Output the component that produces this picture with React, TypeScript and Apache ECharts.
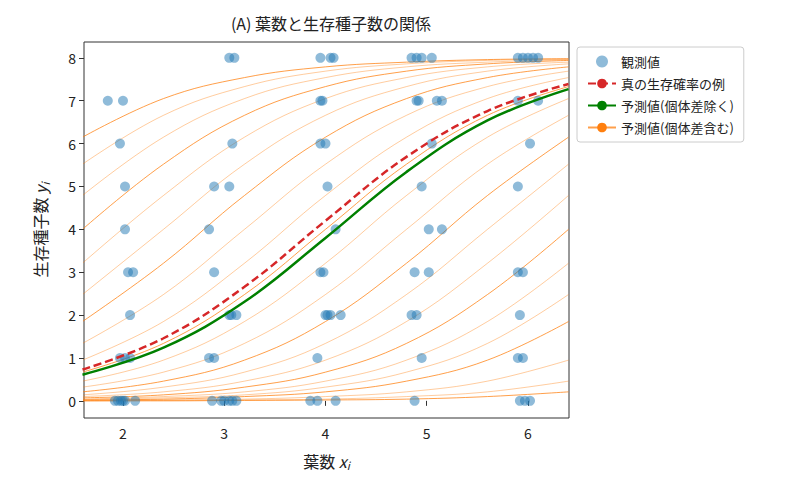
import { useEffect, useRef } from "react";
import * as echarts from "echarts";

const FONT = "'Noto Sans CJK JP', 'DejaVu Sans', sans-serif";

// observed points [x, y]
const obsPoints: [number, number][] = [
  [3.05, 8], [3.1, 8], [3.95, 8], [4.05, 8], [4.08, 8], [4.85, 8], [4.9, 8], [4.95, 8], [5.05, 8],
  [5.9, 8], [5.95, 8], [6.0, 8], [6.05, 8], [6.1, 8],
  [1.85, 7], [2.0, 7], [3.95, 7], [3.97, 7], [4.9, 7], [4.92, 7], [5.1, 7], [5.15, 7], [5.9, 7], [6.1, 7],
  [1.97, 6], [3.08, 6], [3.95, 6], [4.0, 6], [5.05, 6], [6.02, 6],
  [2.02, 5], [2.9, 5], [3.05, 5], [4.02, 5], [4.95, 5], [5.9, 5],
  [2.02, 4], [2.85, 4], [4.1, 4], [5.02, 4], [5.15, 4],
  [2.05, 3], [2.1, 3], [2.9, 3], [3.95, 3], [3.98, 3], [4.88, 3], [5.02, 3], [5.9, 3], [5.95, 3],
  [2.07, 2], [3.05, 2], [3.07, 2], [3.12, 2], [4.0, 2], [4.02, 2], [4.05, 2], [4.15, 2], [4.85, 2], [4.9, 2], [5.92, 2],
  [1.97, 1], [2.02, 1], [2.07, 1], [2.85, 1], [2.9, 1], [3.92, 1], [4.95, 1], [5.9, 1], [5.95, 1],
  [1.92, 0], [1.95, 0], [1.98, 0], [2.0, 0], [2.02, 0], [2.12, 0], [2.88, 0], [2.97, 0], [3.0, 0], [3.05, 0],
  [3.08, 0], [3.12, 0], [3.85, 0], [3.92, 0], [4.1, 0], [4.88, 0], [5.92, 0], [5.97, 0], [6.02, 0],
];

const curveX = [1.6, 2.4, 3.2, 4.0, 4.8, 5.6, 6.4];
const trueCurve = [0.73, 1.46, 2.66, 4.2, 5.69, 6.76, 7.39];
const predCurve = [0.61, 1.24, 2.31, 3.8, 5.34, 6.54, 7.27];
const indivCurves: number[][] = [
  [6.15, 7.05, 7.54, 7.79, 7.9, 7.96, 7.98],
  [5.52, 6.66, 7.33, 7.69, 7.86, 7.94, 7.97],
  [4.79, 6.15, 7.05, 7.54, 7.79, 7.9, 7.96],
  [4.0, 5.52, 6.66, 7.33, 7.69, 7.86, 7.94],
  [3.21, 4.79, 6.15, 7.05, 7.54, 7.79, 7.9],
  [2.48, 4.0, 5.52, 6.66, 7.33, 7.69, 7.86],
  [1.85, 3.21, 4.79, 6.15, 7.05, 7.54, 7.79],
  [1.34, 2.48, 4.0, 5.52, 6.66, 7.33, 7.69],
  [0.95, 1.85, 3.21, 4.79, 6.15, 7.05, 7.54],
  [0.67, 1.34, 2.48, 4.0, 5.52, 6.66, 7.33],
  [0.46, 0.95, 1.85, 3.21, 4.79, 6.15, 7.05],
  [0.32, 0.67, 1.34, 2.48, 4.0, 5.52, 6.66],
  [0.21, 0.46, 0.95, 1.85, 3.21, 4.79, 6.15],
  [0.14, 0.32, 0.67, 1.34, 2.48, 4.0, 5.52],
  [0.1, 0.21, 0.46, 0.95, 1.85, 3.21, 4.79],
  [0.07, 0.14, 0.32, 0.67, 1.34, 2.48, 4.0],
  [0.04, 0.1, 0.21, 0.46, 0.95, 1.85, 3.21],
  [0.03, 0.07, 0.14, 0.32, 0.67, 1.34, 2.48],
  [0.02, 0.04, 0.1, 0.21, 0.46, 0.95, 1.85],
  [0.01, 0.02, 0.04, 0.1, 0.21, 0.46, 0.95],
  [0.0, 0.01, 0.02, 0.04, 0.1, 0.21, 0.46],
  [0.0, 0.0, 0.01, 0.02, 0.04, 0.1, 0.21],
];
const xTicks = [2, 3, 4, 5, 6];
const yTicks = [0, 1, 2, 3, 4, 5, 6, 7, 8];

const zip = (ys: number[]) => curveX.map((x, i) => [x, ys[i]]);

const nameRich = {
  n: { fontFamily: FONT, fontSize: 16, color: "#222" },
  v: { fontFamily: FONT, fontSize: 16, fontStyle: "italic", color: "#222" },
  s: { fontFamily: FONT, fontSize: 11, fontStyle: "italic", color: "#222", padding: [10, 0, 0, 0] },
};

export default function App() {
  const ref = useRef<HTMLDivElement>(null);

  useEffect(() => {
    if (!ref.current) return;
    const chart = echarts.init(ref.current, undefined, { renderer: "svg" });
    const indivName = "予測値(個体差含む)";

    chart.setOption({
      animation: false,
      textStyle: { fontFamily: FONT },
      title: {
        text: "(A) 葉数と生存種子数の関係",
        left: 326, top: 10, textAlign: "center",
        textStyle: { fontFamily: FONT, fontSize: 16, fontWeight: "normal", color: "#222" },
      },
      legend: {
        orient: "vertical", left: 577, top: 47,
        itemWidth: 28, itemHeight: 12, itemGap: 9,
        borderColor: "#ccc", borderWidth: 1, borderRadius: 3, padding: [8, 10, 8, 10],
        textStyle: { fontFamily: FONT, fontSize: 13, color: "#222" },
        data: ["観測値", "真の生存確率の例", "予測値(個体差除く)", indivName],
      },
      grid: { left: 84, right: 237, top: 42, bottom: 73, show: true, borderColor: "#333", borderWidth: 1 },
      xAxis: {
        type: "value", min: 1.615, max: 6.405,
        name: "{n|葉数 }{v|x}{s|i}", nameLocation: "middle", nameGap: 32,
        nameTextStyle: { rich: nameRich },
        axisLine: { show: false },
        axisTick: { show: true, customValues: xTicks, lineStyle: { color: "#333" } },
        axisLabel: { customValues: xTicks, fontSize: 14, color: "#222", fontFamily: FONT },
        splitLine: { show: false },
      },
      yAxis: {
        type: "value", min: -0.4, max: 8.37,
        name: "{n|生存種子数 }{v|y}{s|i}", nameLocation: "middle", nameGap: 34, nameRotate: 90,
        nameTextStyle: { rich: nameRich },
        axisLine: { show: false },
        axisTick: { show: true, customValues: yTicks, lineStyle: { color: "#333" } },
        axisLabel: { customValues: yTicks, fontSize: 14, color: "#222", fontFamily: FONT },
        splitLine: { show: false },
      },
      series: [
        ...indivCurves.map((c, i) => ({
          name: indivName, type: "line", data: zip(c), smooth: 0.4, symbol: "none", silent: true,
          z: 1,
          lineStyle: { color: "#ff7f0e", width: 1, opacity: i % 3 === 0 ? 0.75 : 0.4 },
          itemStyle: { color: "#ff7f0e" },
        })),
        {
          name: "観測値", type: "scatter", data: obsPoints, symbolSize: 10, z: 3,
          itemStyle: { color: "#1f77b4", opacity: 0.5 },
        },
        {
          name: "予測値(個体差除く)", type: "line", data: zip(predCurve), smooth: 0.4, symbol: "none", z: 4,
          lineStyle: { color: "#008000", width: 2.5 }, itemStyle: { color: "#008000" },
        },
        {
          name: "真の生存確率の例", type: "line", data: zip(trueCurve), smooth: 0.4, symbol: "none", z: 5,
          lineStyle: { color: "#d62728", width: 2.5, type: [8, 4] }, itemStyle: { color: "#d62728" },
        },
      ],
    });
    return () => chart.dispose();
  }, []);

  return <div ref={ref} style={{ position: "absolute", left: 0, top: 0, width: 806, height: 491 }} />;
}
